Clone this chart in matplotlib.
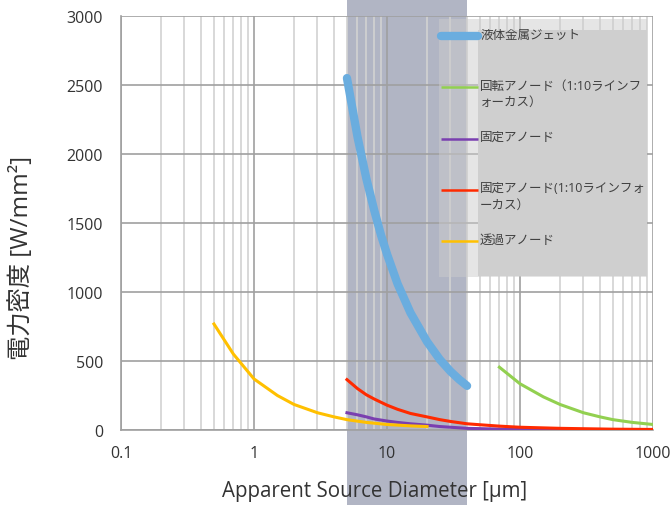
import matplotlib.pyplot as plt
from matplotlib.patches import Rectangle
from matplotlib.ticker import LogLocator, NullFormatter, FixedLocator

plt.rcParams['font.family'] = ['Open Sans', 'Noto Sans CJK JP', 'DejaVu Sans']

# ============= data
jet_d = [5, 6, 7, 8, 9, 10, 12, 15, 20, 25, 30, 35, 40]
jet_p = [2550, 2125, 1820, 1595, 1415, 1275, 1060, 850, 640, 510, 425, 365, 320]

rot_d = [70, 100, 150, 200, 300, 400, 500, 700, 1000]
rot_p = [455, 335, 240, 185, 125, 95, 75, 55, 40]

fix_d = [5, 6, 7, 8, 10, 12, 15, 20, 25, 30, 40, 60, 100, 300, 1000]
fix_p = [125, 110, 95, 80, 65, 55, 45, 35, 25, 20, 12, 8, 5, 2, 1]

line_d = [5, 6, 7, 8, 10, 12, 15, 20, 25, 30, 40, 50, 70, 100, 200, 500, 1000]
line_p = [365, 300, 255, 225, 180, 150, 120, 95, 75, 62, 45, 38, 28, 20, 12, 6, 4]

tr_d = [0.5, 0.7, 1, 1.5, 2, 3, 4, 5, 7, 10, 15, 20]
tr_p = [768, 550, 370, 250, 185, 125, 95, 75, 55, 40, 30, 25]

labels = ["液体金属ジェット",
          "回転アノード（1:10ラインフ\nォーカス）",
          "固定アノード",
          "固定アノード(1:10ラインフォ\nーカス）",
          "透過アノード"]
colors = ["#6aaddf", "#92d050", "#7a3fb0", "#ff2a00", "#ffc000"]
widths = [6.0, 2.2, 2.2, 2.2, 2.2]

shade_lo, shade_hi = 5, 40

# ============= figure
W, H = 672, 506
fig = plt.figure(figsize=(W / 100, H / 100), dpi=100)
ax = fig.add_axes([121 / W, 1 - 431 / H, 532 / W, 414 / H])

ax.set_xscale('log')
ax.set_xlim(0.1, 1000)
ax.set_ylim(0, 3000)

# shaded band, runs over the whole figure height
ax.axvspan(shade_lo, shade_hi, ymin=-75 / 414, ymax=431 / 414, color="#b1b5c4",
           clip_on=False, zorder=0.3, lw=0)

ax.plot(jet_d, jet_p, color=colors[0], lw=widths[0], solid_capstyle='round', zorder=3)
ax.plot(rot_d, rot_p, color=colors[1], lw=widths[1], zorder=3)
ax.plot(fix_d, fix_p, color=colors[2], lw=widths[2], zorder=3)
ax.plot(line_d, line_p, color=colors[3], lw=widths[3], zorder=3)
ax.plot(tr_d, tr_p, color=colors[4], lw=widths[4], zorder=3)

# ticks & grid
ax.xaxis.set_major_locator(FixedLocator([0.1, 1, 10, 100, 1000]))
ax.set_xticklabels(["0.1", "1", "10", "100", "1000"])
ax.xaxis.set_minor_locator(LogLocator(base=10, subs=range(2, 10)))
ax.xaxis.set_minor_formatter(NullFormatter())
ax.set_yticks(range(0, 3001, 500))

ax.grid(True, which='major', color="#a0a0a0", lw=1.2, zorder=1)
ax.grid(True, which='minor', axis='x', color="#d2d2d2", lw=1.2, zorder=1)
ax.set_axisbelow(True)

for s in ['top', 'right']:
    ax.spines[s].set_visible(False)
for s in ['left', 'bottom']:
    ax.spines[s].set_color("#a0a0a0")
    ax.spines[s].set_linewidth(1.2)

ax.tick_params(axis='both', which='both', length=0, labelsize=11.5, colors="#404040")
ax.tick_params(axis='x', pad=11)
ax.tick_params(axis='y', pad=13)
for lab in ax.get_xticklabels() + ax.get_yticklabels():
    lab.set_color("#333333")

ax.set_xlabel("Apparent Source Diameter [µm]", fontsize=14.8, color="#333333")
ax.set_ylabel("電力密度 [W/mm²]", fontsize=17.5, color="#333333")
ax.xaxis.set_label_coords((375 - 121) / 532, (431 - 481) / 414)
ax.yaxis.set_label_coords((34 - 121) / 532, (431 - 258) / 414)


# ============= legend drawn by hand (Excel style boxes)
def ax_xy(px, py):
    return (px - 121) / 532, (431 - py) / 414

x0, y0 = ax_xy(439, 278)
x1, y1 = ax_xy(647, 20)
ax.add_patch(Rectangle((x0, y0), x1 - x0, y1 - y0, transform=ax.transAxes,
                       facecolor="#cccccc", alpha=0.5, lw=0, zorder=4, clip_on=False))
x0, y0 = ax_xy(478, 277)
x1, y1 = ax_xy(647, 31)
ax.add_patch(Rectangle((x0, y0), x1 - x0, y1 - y0, transform=ax.transAxes,
                       facecolor="#cfcfcf", lw=0, zorder=4, clip_on=False))

for i, lab in enumerate(labels):
    py = 37 + 51.3 * i
    ha, ya = ax_xy(441, py)
    hb, _ = ax_xy(478, py)
    ax.plot([ha, hb], [ya, ya], transform=ax.transAxes, color=colors[i],
            lw=widths[i] if i == 0 else 1.8, solid_capstyle='round' if i == 0 else 'butt',
            zorder=5, clip_on=False)
    tx, ty = ax_xy(480, py - 8.5)
    ax.text(tx, ty, lab, transform=ax.transAxes, fontsize=9, color="#404040",
            va='top', ha='left', linespacing=1.3, zorder=6)

plt.savefig("out.png", dpi=100)
